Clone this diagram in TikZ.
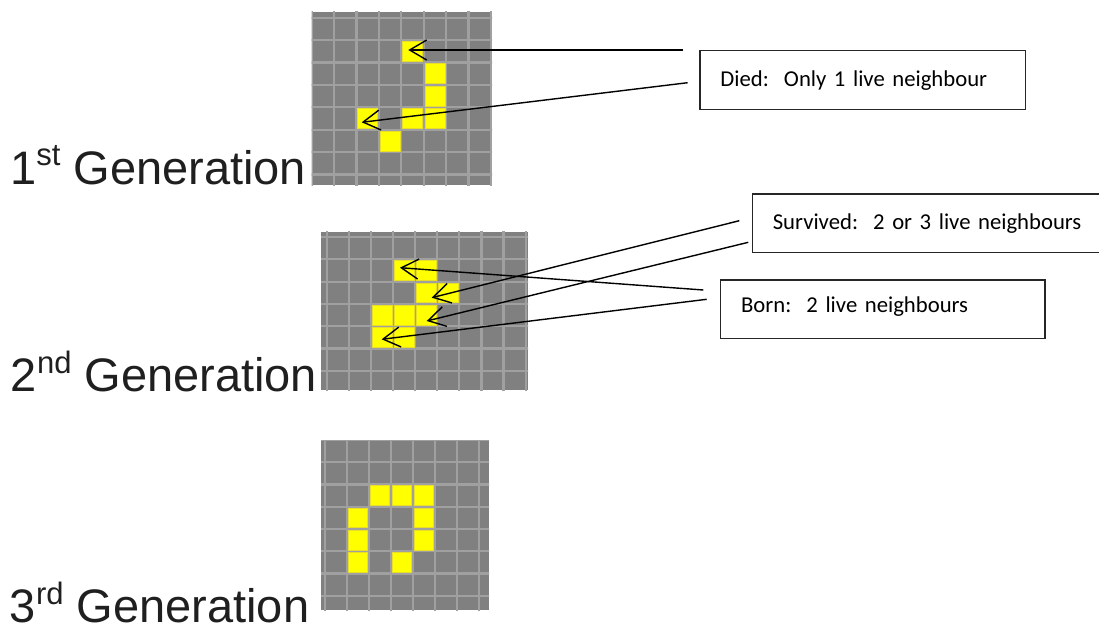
\documentclass[tikz,border=0pt]{standalone}
\usepackage{fontspec}
\setmainfont{Liberation Sans}
\newfontfamily\calloutfont{Carlito}
\usetikzlibrary{arrows.meta}

\definecolor{cellgrey}{RGB}{128,128,128}
\definecolor{linegrey}{RGB}{160,160,160}
\definecolor{lifeyellow}{RGB}{255,255,0}
\definecolor{edgeyellow}{RGB}{232,222,40}

% board: #1 left, #2 top, #3 right, #4 bottom, #5 first column line,
% #6 first row line, #7 column pitch, #8 row pitch
\newcommand{\lifegrid}[8]{%
  \begin{scope}
    \clip (#1,#2) rectangle (#3,#4);
    \fill[cellgrey] (#1,#2) rectangle (#3,#4);
    \foreach \k in {-1,...,10} {
      \draw[gridline] ({#5+\k*#7},{#2-5}) -- ({#5+\k*#7},{#4+5});
      \draw[gridline] ({#1-5},{#6+\k*#8}) -- ({#3+5},{#6+\k*#8});
    }
  \end{scope}}

% live cells: #1 first column line, #2 first row line, #3/#4 pitches, #5 list col/row
\newcommand{\livecells}[5]{%
  \foreach \c/\r in {#5} {
    \filldraw[livecell] ({#1+\c*#3+1.2},{#2+\r*#4+1.2})
      rectangle ({#1+(\c+1)*#3-1.2},{#2+(\r+1)*#4-1.2});
  }}

% ordinal suffix of the generation titles
\newcommand{\genord}[1]{\raisebox{18.5pt}{\fontsize{31}{31}\selectfont #1}}

\begin{document}
\begin{tikzpicture}[x=1pt,y=-1pt,
  gridline/.style={draw=linegrey, line width=2.2pt},
  livecell/.style={fill=lifeyellow, draw=edgeyellow, line width=0.6pt},
  title/.style={anchor=base west, inner sep=0pt, text=black!88,
    font=\fontsize{47}{50}\selectfont},
  callout/.style={draw=black!85, line width=1.2pt, rectangle, anchor=north west,
    inner xsep=20.5pt, inner ysep=0pt, align=left,
    font=\calloutfont\fontsize{22.7}{27}\selectfont},
  pointer/.style={line width=1.4pt, -{Straight Barb[length=17pt,width=20pt]}}]

\useasboundingbox (0,0) rectangle (1099,626);
\clip (0,0) rectangle (1099,626);

% generation titles
\node[title] (gen1) at (10,184)   {1\genord{st} Generation};
\node[title] (gen2) at (10.7,391.7) {2\genord{nd} Generation};
\node[title] (gen3) at (9.7,622.5) {3\genord{rd} Generation};

% first generation
\lifegrid{311.7}{11.7}{492}{185}{311.7}{17.7}{22.4}{22.4}
\livecells{311.7}{17.7}{22.4}{22.4}{4/1,5/2,5/3,2/4,4/4,5/4,3/5}

% second generation
\lifegrid{321}{231.7}{528}{390}{326.7}{237}{22.1}{22.3}
\livecells{326.7}{237}{22.1}{22.3}{3/1,4/1,4/2,5/2,2/3,3/3,4/3,2/4,3/4}

% third generation
\lifegrid{321}{440}{489}{610}{324.6}{440}{22.05}{22.24}
\livecells{324.6}{440}{22.05}{22.24}{2/2,3/2,4/2,1/3,4/3,1/4,4/4,1/5,3/5}

% rule boxes
\node[callout, minimum width=325.7pt, text width=284.7pt,
      text height=36pt, text depth=23pt] (died) at (699.3,50)
      {Died:\ \ Only 1 live neighbour};
\node[callout, minimum width=370pt, text width=329pt,
      text height=36pt, text depth=22.2pt] (survived) at (751.7,193.3)
      {Survived:\ \ 2 or 3 live neighbours};
\node[callout, minimum width=324.3pt, text width=283.3pt,
      text height=32.5pt, text depth=25.9pt] (born) at (720,279.3)
      {Born:\ \ 2 live neighbours};

% arrow ends
\coordinate (diedA) at (683.3,50);
\coordinate (diedB) at (687.7,82.7);
\coordinate (survA) at (739.3,220.7);
\coordinate (survB) at (748.3,242.3);
\coordinate (bornA) at (703.3,290);
\coordinate (bornB) at (706.7,299.3);

\coordinate (g1top)  at (408.3,50);
\coordinate (g1left) at (361.7,122.3);
\coordinate (g2top)  at (400,267.7);
\coordinate (g2mid)  at (431.7,297.7);
\coordinate (g2low)  at (426.7,321);
\coordinate (g2foot) at (381.7,339.3);

\draw[pointer] (diedA) -- (g1top);
\draw[pointer] (diedB) -- (g1left);
\draw[pointer] (survA) -- (g2mid);
\draw[pointer] (survB) -- (g2low);
\draw[pointer] (bornA) -- (g2top);
\draw[pointer] (bornB) -- (g2foot);
\end{tikzpicture}
\end{document}
